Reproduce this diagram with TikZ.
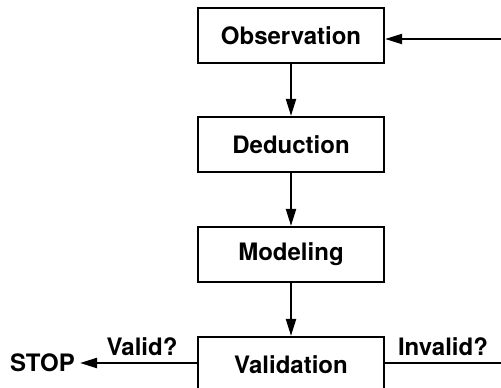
\documentclass[tikz,border=0pt]{standalone}
\usepackage{fontspec}
\setmainfont{TeX Gyre Heros}
\usetikzlibrary{arrows.meta}
\begin{document}
\begin{tikzpicture}[x=1pt,y=-1pt,
  every node/.style={font=\fontsize{24}{27}\selectfont\bfseries},
  stagebox/.style={draw, line width=2.2pt, minimum width=186pt, minimum height=55pt, inner sep=0pt},
  flow/.style={line width=2.1pt, -{Triangle[length=17pt,width=10pt]}},
  plainline/.style={line width=2.1pt}]
\useasboundingbox (0,0) rectangle (501,388);
\clip (0,0) rectangle (501,388);
\node[stagebox] (obs) at (291,35.5) {Observation};
\node[stagebox] (ded) at (291,144.5) {Deduction};
\node[stagebox] (mod) at (291,254.5) {Modeling};
\node[stagebox] (val) at (291,364.5) {Validation};
\node[anchor=east, inner sep=0pt] (stop) at (75,363) {STOP};
\coordinate (redge) at (505,363);
\coordinate (rtop) at (505,39);
\draw[flow] (obs) -- (ded);
\draw[flow] (ded) -- (mod);
\draw[flow] (mod) -- (val);
\draw[flow] (val.west |- stop) -- ([xshift=5pt]stop.east);
\draw[plainline] (val.east |- redge) -- (redge);
\draw[flow] (rtop) -- (obs.east |- rtop);
\node[inner sep=0pt] (validq) at (142,347) {Valid?};
\node[inner sep=0pt] (invalidq) at (443,347) {Invalid?};
\end{tikzpicture}
\end{document}
